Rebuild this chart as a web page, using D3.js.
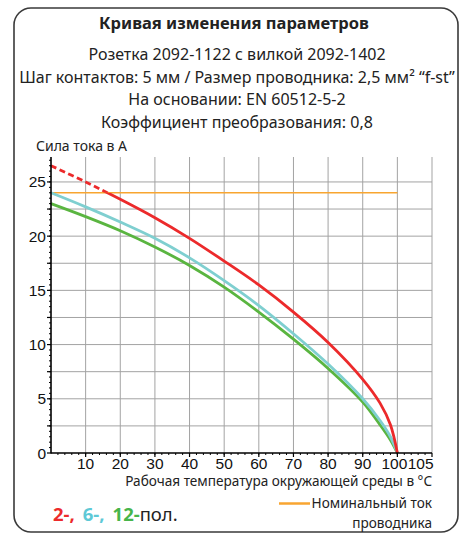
<!DOCTYPE html>
<html>
<head>
<meta charset="utf-8">
<script src="https://cdn.jsdelivr.net/npm/d3@7/dist/d3.min.js"></script>
<style>
  html, body { margin: 0; padding: 0; background: #fff; }
  svg { display: block; }
  .hdr { font-family: "Noto Sans", sans-serif; fill: #222; }
  .tick-lbl { font-family: "Liberation Sans", Arial, sans-serif; font-size: 15.5px; fill: #111; }
</style>
</head>
<body>
<svg id="chart" width="462" height="533"></svg>
<script>
// Ambient temperature, °C
const temps = [0, 10, 20, 30, 40, 50, 60, 70, 80, 90, 95, 98, 100];
// Derating curves, current in A
const pole2 = [26.5, 25.0, 23.4, 21.7, 19.8, 17.7, 15.5, 13.0, 10.2, 6.8, 4.6, 2.6, 0];
const pole6 = [24.0, 22.7, 21.3, 19.8, 18.0, 15.9, 13.6, 11.0, 8.2, 5.0, 3.0, 1.5, 0];
const pole12 = [23.0, 21.8, 20.5, 19.0, 17.3, 15.3, 13.0, 10.5, 7.8, 4.7, 2.6, 1.2, 0];
// Rated conductor current
const ratedCurrent = 24;
const ratedRange = [0, 100];
// Axis ticks
const xTickValues = [10, 20, 30, 40, 50, 60, 70, 80, 90, 100, 105];
const yTickValues = [0, 5, 10, 15, 20, 25];
const xGridValues = [10, 20, 30, 40, 50, 60, 70, 80, 90, 100, 110];
const yGridValues = [2.5, 5, 7.5, 10, 12.5, 15, 17.5, 20, 22.5, 25];

const headerLines = [
  "Розетка 2092-1122 с вилкой 2092-1402",
  "Шаг контактов: 5 мм / Размер проводника: 2,5 мм² “f-st”",
  "На основании: EN 60512-5-2",
  "Коэффициент преобразования: 0,8"
];

const colors = { red: "#ec2a2b", cyan: "#7fcfd0", green: "#5ab540", orange: "#f8a530" };

const svg = d3.select("#chart");

// frame
svg.append("rect")
  .attr("x", 14).attr("y", 8).attr("width", 444).attr("height", 524)
  .attr("rx", 17).attr("ry", 17)
  .attr("fill", "#fff").attr("stroke", "#3a3a3a").attr("stroke-width", 1.6);

// header
svg.append("text").attr("class", "hdr")
  .attr("x", 234).attr("y", 29).attr("text-anchor", "middle")
  .attr("font-size", 16.5).attr("font-weight", "bold")
  .text("Кривая изменения параметров");

svg.selectAll("text.sub").data(headerLines).enter().append("text")
  .attr("class", "hdr sub")
  .attr("x", 237).attr("y", (d, i) => 60 + i * 22.7)
  .attr("text-anchor", "middle").attr("font-size", 16)
  .text(d => d);

// scales
const x = d3.scaleLinear().domain([0, 110]).range([51, 432]);
const y = d3.scaleLinear().domain([0, 27.3]).range([453, 157]);

// grid
const grid = svg.append("g").attr("stroke", "#a3a3a3").attr("stroke-width", 1);
grid.selectAll("line.v").data(xGridValues).enter().append("line")
  .attr("x1", d => x(d)).attr("x2", d => x(d))
  .attr("y1", y(0)).attr("y2", y.range()[1]);
grid.selectAll("line.h").data(yGridValues).enter().append("line")
  .attr("x1", x(0)).attr("x2", x(110))
  .attr("y1", d => y(d)).attr("y2", d => y(d));

// rated current line
svg.append("line")
  .attr("x1", x(ratedRange[0])).attr("x2", x(ratedRange[1]))
  .attr("y1", y(ratedCurrent)).attr("y2", y(ratedCurrent))
  .attr("stroke", colors.orange).attr("stroke-width", 1.6);

// curves
const line = d3.line()
  .x(d => x(d[0])).y(d => y(d[1]))
  .curve(d3.curveCatmullRom.alpha(0.5));

function drawCurve(vals, color) {
  const pts = temps.map((t, i) => [t, vals[i]]);
  return svg.append("path").datum(pts)
    .attr("d", line).attr("fill", "none")
    .attr("stroke", color).attr("stroke-width", 2.8)
    .attr("stroke-linejoin", "round");
}

drawCurve(pole12, colors.green);
drawCurve(pole6, colors.cyan);

// 2-pole: dashed above the rated current, solid below
svg.append("clipPath").attr("id", "above")
  .append("rect").attr("x", 0).attr("y", 0).attr("width", 462).attr("height", y(ratedCurrent));
svg.append("clipPath").attr("id", "below")
  .append("rect").attr("x", 0).attr("y", y(ratedCurrent)).attr("width", 462).attr("height", 533);
drawCurve(pole2, colors.red).attr("clip-path", "url(#below)");
drawCurve(pole2, colors.red).attr("clip-path", "url(#above)")
  .attr("stroke-dasharray", "6,3.5");

// axes
const axes = svg.append("g").attr("stroke", "#000");
axes.append("line").attr("x1", x(0)).attr("x2", x(0)).attr("y1", y.range()[1]).attr("y2", y(0) + 0.5)
  .attr("stroke-width", 1.6);
axes.append("line").attr("x1", x(0)).attr("x2", x(110)).attr("y1", y(0)).attr("y2", y(0))
  .attr("stroke-width", 1.6);

// minor ticks
axes.selectAll("line.ym").data(d3.range(0.5, 27.3, 0.5)).enter().append("line")
  .attr("x1", x(0) - 2).attr("x2", x(0))
  .attr("y1", d => y(d)).attr("y2", d => y(d)).attr("stroke-width", 1);
axes.selectAll("line.xm").data(d3.range(2, 110, 2)).enter().append("line")
  .attr("x1", d => x(d)).attr("x2", d => x(d))
  .attr("y1", y(0)).attr("y2", y(0) + 2).attr("stroke-width", 1);
// major ticks
axes.selectAll("line.yM").data(yTickValues.concat([2.5, 7.5, 12.5, 17.5, 22.5])).enter().append("line")
  .attr("x1", x(0) - 4).attr("x2", x(0))
  .attr("y1", d => y(d)).attr("y2", d => y(d)).attr("stroke-width", 1.2);
axes.selectAll("line.xM").data(xGridValues).enter().append("line")
  .attr("x1", d => x(d)).attr("x2", d => x(d))
  .attr("y1", y(0)).attr("y2", y(0) + 4).attr("stroke-width", 1.2);

// tick labels
svg.selectAll("text.yl").data(yTickValues).enter().append("text")
  .attr("class", "tick-lbl")
  .attr("x", x(0) - 5).attr("y", d => y(d) + 5.5)
  .attr("text-anchor", "end").text(d => d);
const xLabelShift = { 100: -3, 105: 6 };
svg.selectAll("text.xl").data(xTickValues).enter().append("text")
  .attr("class", "tick-lbl")
  .attr("x", d => x(d) + (xLabelShift[d] || 0)).attr("y", 469)
  .attr("text-anchor", "middle").text(d => d);

// axis titles
svg.append("text").attr("class", "hdr")
  .attr("x", 36).attr("y", 151).attr("font-size", 14)
  .text("Сила тока в А");
svg.append("text").attr("class", "hdr")
  .attr("x", 432).attr("y", 486).attr("font-size", 13.6).attr("text-anchor", "end")
  .text("Рабочая температура окружающей среды в °C");

// legend: pole counts
const poleLegend = svg.append("text").attr("class", "hdr")
  .attr("x", 53).attr("y", 521).attr("font-size", 18.5);
[["2-,", colors.red, "bold", 0], ["6-,", "#5ec9d6", "bold", 8], ["12-", "#47b54a", "bold", 8], ["пол.", "#222", "normal", 0]]
  .forEach(([t, c, w, dx]) => poleLegend.append("tspan")
    .attr("dx", dx).attr("fill", c).attr("font-weight", w).text(t));

// legend: rated current
svg.append("line")
  .attr("x1", 279).attr("x2", 310).attr("y1", 503.5).attr("y2", 503.5)
  .attr("stroke", colors.orange).attr("stroke-width", 2.5);
svg.append("text").attr("class", "hdr")
  .attr("x", 432).attr("y", 508).attr("font-size", 13.6).attr("text-anchor", "end")
  .text("Номинальный ток");
svg.append("text").attr("class", "hdr")
  .attr("x", 432).attr("y", 528).attr("font-size", 13.6).attr("text-anchor", "end")
  .text("проводника");
</script>
</body>
</html>
